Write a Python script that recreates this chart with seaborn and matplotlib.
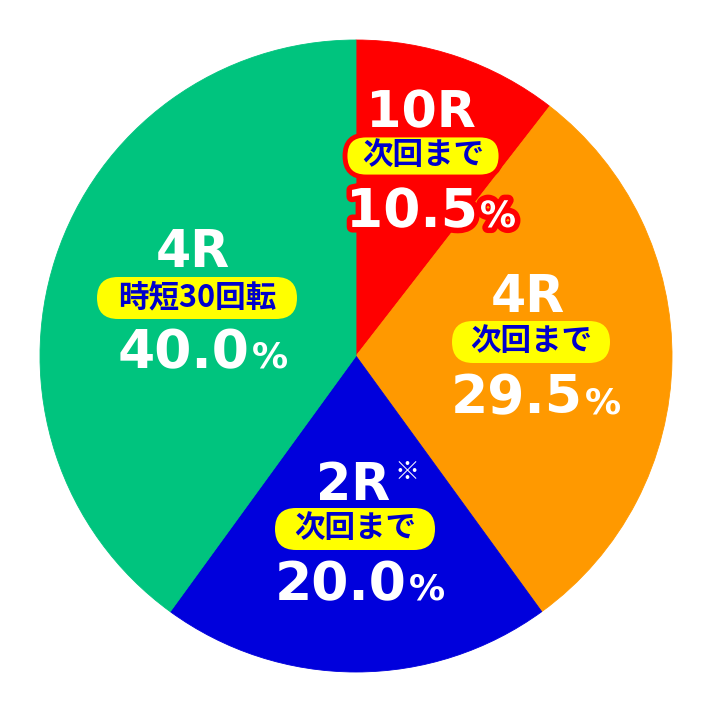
import matplotlib
matplotlib.use("Agg")
import matplotlib.pyplot as plt
import seaborn as sns
from matplotlib.patches import FancyBboxPatch
from matplotlib.transforms import IdentityTransform
import matplotlib.patheffects as pe

# data
rounds = ["10R", "4R", "2R", "4R"]
shares = [10.5, 29.5, 20.0, 40.0]
pct_labels = ["10.5", "29.5", "20.0", "40.0"]
notes = ["次回まで", "次回まで", "次回まで", "時短30回転"]
colors = ["#FF0000", "#FF9900", "#0000DC", "#00C47E"]

# label layout in image pixels: (title x, title baseline, pill x, pill y, pill w, pct x, pct baseline)
layout = [
    (421, 127, 423, 156, 156, 431, 227),
    (528, 312, 531, 342, 158, 536, 413),
    (353, 500, 355, 529, 160, 360, 600),
    (193, 267, 197, 298, 200, 203, 368),
]

W, H = 712, 710
CX, CY, R = 356, 356, 316

sns.set_theme(style="white")
plt.rcParams["font.family"] = ["DejaVu Sans", "Noto Sans CJK JP"]

fig = plt.figure(figsize=(W / 100, H / 100), dpi=100)
ax = fig.add_axes([0, 0, 1, 1])
wedges, _ = ax.pie(shares, colors=colors, startangle=90, counterclock=False, radius=1)
for w in wedges:
    w.set_edgecolor(w.get_facecolor())
    w.set_linewidth(0.6)

T = IdentityTransform()
rend = fig.canvas.get_renderer()


def Y(py):
    return H - py


for i, (tx, tb, bx, by, bw, px, pb) in enumerate(layout):
    fx = [pe.withStroke(linewidth=8, foreground="#FF0000")] if i == 0 else []
    ax.text(tx, Y(tb), rounds[i], transform=T, ha="center", va="baseline",
            fontsize=36.5, fontweight="bold", color="white", path_effects=fx, zorder=5)
    if i == 2:
        ax.text(407, Y(472), "※", transform=T, ha="center", va="center",
                fontsize=18, color="white", family=["Noto Sans CJK JP", "DejaVu Sans"], zorder=5)

    bh = 42
    pill = FancyBboxPatch((bx - bw / 2, Y(by) - bh / 2), bw, bh,
                          boxstyle=f"round,pad=0,rounding_size={bh / 2}",
                          transform=T, fc="#FFFF00",
                          ec="#FF0000" if i == 0 else "none",
                          lw=3.5 if i == 0 else 0, zorder=4)
    ax.add_artist(pill)
    ax.text(bx, Y(by) + 1, notes[i], transform=T, ha="center", va="center",
            fontsize=22, fontweight="bold", color="#0000CC",
            family=["Noto Sans CJK JP", "DejaVu Sans"], zorder=6)

    t1 = ax.text(0, 0, pct_labels[i], transform=T, ha="left", va="baseline",
                 fontsize=38.5, fontweight="bold", color="white", path_effects=fx, zorder=5)
    t2 = ax.text(0, 0, "%", transform=T, ha="left", va="baseline",
                 fontsize=26, fontweight="bold", color="white", path_effects=fx, zorder=5)
    w1 = t1.get_window_extent(rend).width
    w2 = t2.get_window_extent(rend).width
    x0 = px - (w1 + 2 + w2) / 2
    t1.set_position((x0, Y(pb)))
    t2.set_position((x0 + w1 + 2, Y(pb)))

ax.set_xlim(-CX / R, (W - CX) / R)
ax.set_ylim(-(H - CY) / R, CY / R)
ax.set_aspect("auto")
ax.axis("off")

fig.savefig("out.png", dpi=100, facecolor="white")
